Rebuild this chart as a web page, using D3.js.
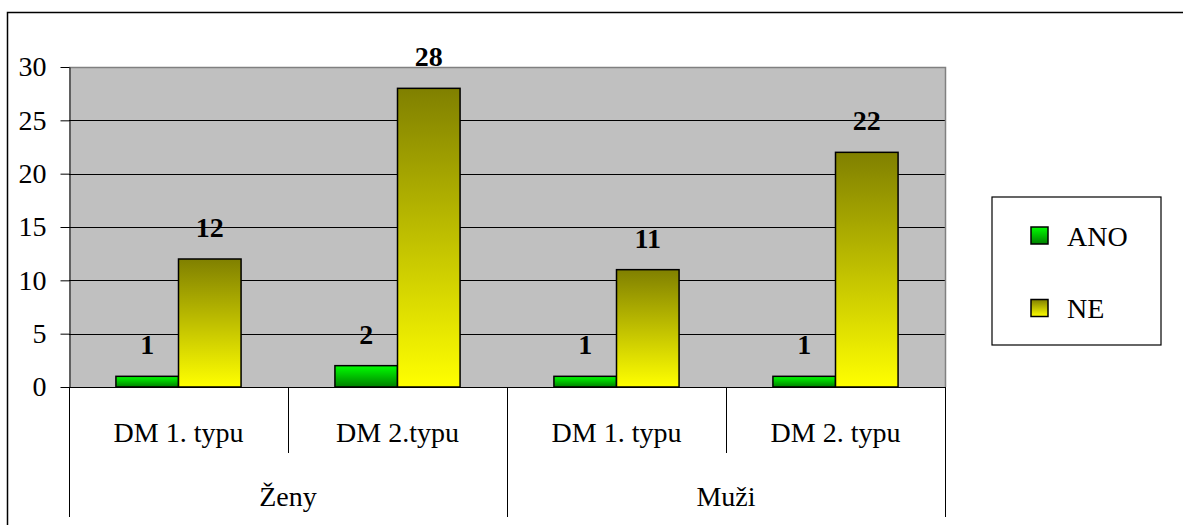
<!DOCTYPE html>
<html>
<head>
<meta charset="utf-8">
<script src="https://cdn.jsdelivr.net/npm/d3@7"></script>
</head>
<body style="margin:0;background:#fff">
<svg id="chart" width="1183" height="525" style="display:block"></svg>
<script>
// Diabetes type by gender, answers ANO / NE
const groups = ["Ženy", "Muži"];
const categories = ["DM 1. typu", "DM 2.typu", "DM 1. typu", "DM 2. typu"];
const categoryGroup = [0, 0, 1, 1];
const seriesNames = ["ANO", "NE"];
const valuesANO = [1, 2, 1, 1];
const valuesNE = [12, 28, 11, 22];
const yTicks = [0, 5, 10, 15, 20, 25, 30];

const FONT = "Liberation Serif";

const svg = d3.select("#chart").attr("font-family", FONT);
const W = 1183, H = 525;

// outer chart frame (extends past the right and bottom edges)
svg.append("rect")
  .attr("x", 7.5).attr("y", 12.5)
  .attr("width", W + 20).attr("height", H + 20)
  .attr("fill", "#fff").attr("stroke", "#000").attr("stroke-width", 1.5);

const plot = { left: 69, right: 945, top: 67, bottom: 387 };

const x = d3.scaleBand()
  .domain(d3.range(categories.length))
  .range([plot.left, plot.right])
  .paddingInner(0).paddingOuter(0);

const y = d3.scaleLinear().domain([0, 30]).range([plot.bottom, plot.top]);

// gradients
const defs = svg.append("defs");
const gANO = defs.append("linearGradient").attr("id", "gANO")
  .attr("x1", 0).attr("y1", 0).attr("x2", 0).attr("y2", 1);
gANO.append("stop").attr("offset", "0%").attr("stop-color", "#00ff00");
gANO.append("stop").attr("offset", "100%").attr("stop-color", "#008000");
const gNE = defs.append("linearGradient").attr("id", "gNE")
  .attr("x1", 0).attr("y1", 0).attr("x2", 0).attr("y2", 1);
gNE.append("stop").attr("offset", "0%").attr("stop-color", "#808000");
gNE.append("stop").attr("offset", "100%").attr("stop-color", "#ffff00");
const fills = ["url(#gANO)", "url(#gNE)"];

// plot background
svg.append("rect")
  .attr("x", plot.left).attr("y", plot.top)
  .attr("width", plot.right - plot.left).attr("height", plot.bottom - plot.top)
  .attr("fill", "#c0c0c0");

// gridlines
svg.append("g").selectAll("line")
  .data(yTicks.filter(t => t > 0 && t < 30))
  .join("line")
  .attr("x1", plot.left).attr("x2", plot.right)
  .attr("y1", d => Math.round(y(d)) + 0.5).attr("y2", d => Math.round(y(d)) + 0.5)
  .attr("stroke", "#000").attr("stroke-width", 1);

// plot border (top and right in gray)
svg.append("path")
  .attr("d", `M${plot.left},${plot.top + 0.5}H${plot.right + 0.5}V${plot.bottom}`)
  .attr("fill", "none").attr("stroke", "#808080").attr("stroke-width", 1.5);

// bars
const bw = x.bandwidth();
const barW = bw / (2 + 1.5);
const series = [valuesANO, valuesNE];
const barsG = svg.append("g");
series.forEach((vals, si) => {
  barsG.selectAll(null)
    .data(vals)
    .join("rect")
    .attr("x", (d, i) => x(i) + (bw - 2 * barW) / 2 + si * barW)
    .attr("y", d => y(d))
    .attr("width", barW)
    .attr("height", d => y(0) - y(d))
    .attr("fill", fills[si])
    .attr("stroke", "#000").attr("stroke-width", 1.5);
  barsG.selectAll(null)
    .data(vals)
    .join("text")
    .attr("x", (d, i) => x(i) + (bw - 2 * barW) / 2 + si * barW + barW / 2)
    .attr("y", d => y(d) - 22)
    .attr("text-anchor", "middle")
    .attr("font-family", FONT)
    .attr("font-size", 28).attr("font-weight", "bold")
    .text(d => d);
});

// y axis
const yAxis = d3.axisLeft(y).tickValues(yTicks).tickSize(9).tickPadding(14).tickSizeOuter(0);
const yg = svg.append("g").attr("transform", `translate(${plot.left + 0.5},0)`).call(yAxis);
yg.attr("font-family", FONT).attr("font-size", 28);
yg.select(".domain").attr("stroke", "#000").attr("stroke-width", 1);
yg.selectAll(".tick line").attr("stroke", "#000");
yg.selectAll(".tick text")
  .attr("font-family", FONT)
  .attr("font-size", 28).attr("fill", "#000");

// x axis line
svg.append("line")
  .attr("x1", plot.left).attr("x2", plot.right)
  .attr("y1", plot.bottom + 0.5).attr("y2", plot.bottom + 0.5)
  .attr("stroke", "#000").attr("stroke-width", 1);

// category dividers
const bounds = d3.range(categories.length + 1).map(i => i < categories.length ? x(i) : plot.right);
svg.append("g").selectAll("line")
  .data(bounds)
  .join("line")
  .attr("x1", d => Math.round(d) + 0.5).attr("x2", d => Math.round(d) + 0.5)
  .attr("y1", plot.bottom)
  .attr("y2", (d, i) => (i % 2 === 0) ? 517 : 453)
  .attr("stroke", "#000").attr("stroke-width", 1);

// category labels
svg.append("g").selectAll("text")
  .data(categories)
  .join("text")
  .attr("x", (d, i) => x(i) + bw / 2)
  .attr("y", 442)
  .attr("text-anchor", "middle")
  .attr("font-family", FONT)
  .attr("font-size", 28)
  .text(d => d);

// group labels
svg.append("g").selectAll("text")
  .data(groups)
  .join("text")
  .attr("x", (d, gi) => {
    const idx = categoryGroup.map((g, i) => g === gi ? i : -1).filter(i => i >= 0);
    return (x(idx[0]) + x(idx[idx.length - 1]) + bw) / 2;
  })
  .attr("y", 506)
  .attr("text-anchor", "middle")
  .attr("font-family", FONT)
  .attr("font-size", 28)
  .text(d => d);

// legend
const lg = svg.append("g");
lg.append("rect")
  .attr("x", 992).attr("y", 197).attr("width", 169).attr("height", 148)
  .attr("fill", "#fff").attr("stroke", "#000").attr("stroke-width", 1.2);
seriesNames.forEach((name, i) => {
  const cy = 235.5 + i * 72.5;
  lg.append("rect")
    .attr("x", 1031).attr("y", cy - 8.5).attr("width", 17).attr("height", 17)
    .attr("fill", fills[i]).attr("stroke", "#000").attr("stroke-width", 1.5);
  lg.append("text")
    .attr("x", 1067).attr("y", cy + 10)
    .attr("font-family", FONT)
    .attr("font-size", 28)
    .text(name);
});
</script>
</body>
</html>
